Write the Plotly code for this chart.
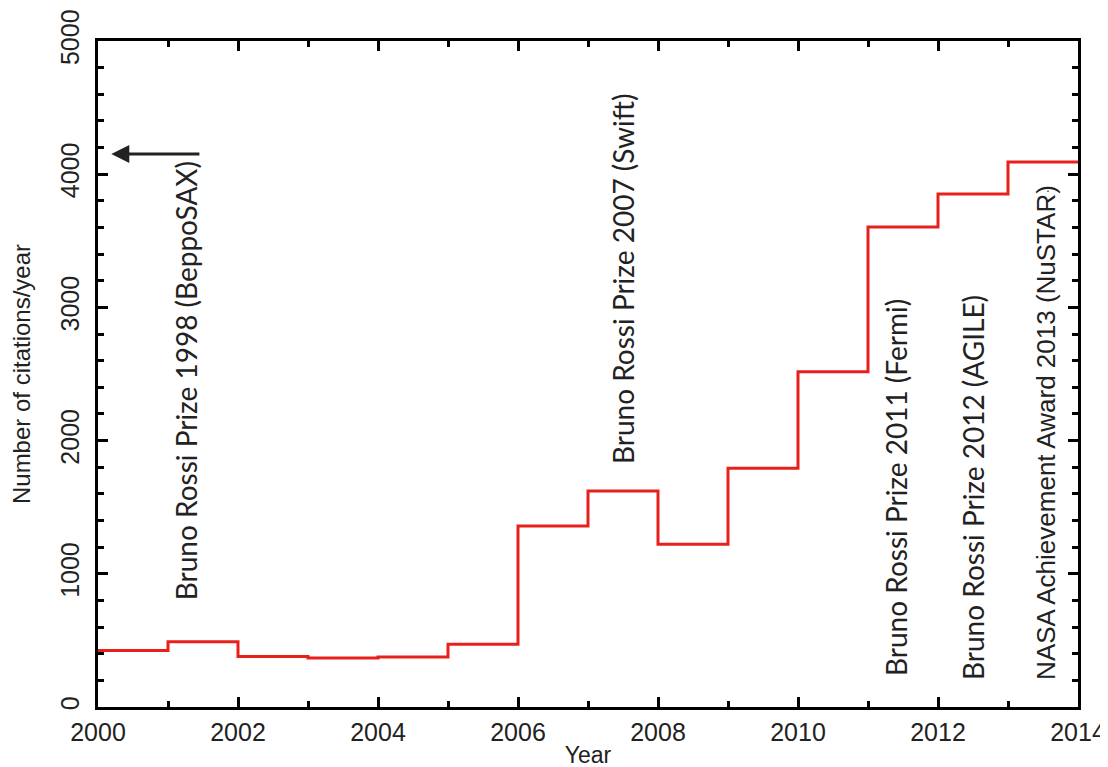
import plotly.graph_objects as go

years = [2000, 2001, 2002, 2003, 2004, 2005, 2006, 2007, 2008, 2009, 2010, 2011, 2012, 2013]
citations = [425, 490, 380, 368, 375, 471, 1359, 1622, 1221, 1792, 2517, 3604, 3851, 4092]
end_year = 2014

notes = [
    "Bruno Rossi Prize 1998 (BeppoSAX)",
    "Bruno Rossi Prize 2007 (Swift)",
    "Bruno Rossi Prize 2011 (Fermi)",
    "Bruno Rossi Prize 2012 (AGILE)",
    "NASA Achievement Award 2013 (NuSTAR)",
]
note_x = [2001.26, 2007.5, 2011.4, 2012.5, 2013.54]
note_y = [2447, 3213, 1644, 1644, 2064]
note_fonts = ["Lato", "Lato", "Lato", "Lato", "Liberation Sans"]
note_sizes = [28, 28, 28, 28, 26]

x_step = years + [end_year]
y_step = citations + [citations[-1]]

fig = go.Figure()
fig.add_trace(go.Scatter(
    x=x_step, y=y_step, mode="lines", line_shape="hv",
    line=dict(color="#e8201c", width=3), showlegend=False, hoverinfo="skip"))

for t, xx, yy, fnt, sz in zip(notes, note_x, note_y, note_fonts, note_sizes):
    fig.add_annotation(x=xx, y=yy, text=t, textangle=-90, showarrow=False,
                       xref="x", yref="y", xanchor="center", yanchor="middle",
                       font=dict(family=fnt, size=sz, color="#222"))

# arrow pointing to the left axis
fig.add_annotation(x=2000.19, y=4152, ax=2001.47, ay=4152, xref="x", yref="y",
                   axref="x", ayref="y", text="", showarrow=True,
                   arrowhead=2, arrowsize=1.2, arrowwidth=3, arrowcolor="#222")
# small dot
fig.add_annotation(x=2013.57, y=3904, text=".", showarrow=False,
                   font=dict(family="Liberation Sans", size=14, color="#444"))

axis_common = dict(
    showline=True, linecolor="black", linewidth=2.5, mirror="ticks",
    ticks="inside", ticklen=10, tickwidth=2.5, tickcolor="black",
    showgrid=False, zeroline=False, automargin=False,
    tickfont=dict(family="Liberation Sans", size=25, color="#222"),
)

fig.update_xaxes(range=[2000, 2014], tickmode="linear", tick0=2000, dtick=2,
                 minor=dict(ticks="inside", ticklen=6, tickwidth=2.5, tickcolor="black",
                            dtick=1, showgrid=False),
                 title=dict(text="Year", font=dict(family="Liberation Sans", size=23, color="#222"),
                            standoff=7),
                 ticklabelstandoff=1,
                 **axis_common)
fig.update_yaxes(range=[0, 5000], tickmode="linear", tick0=0, dtick=1000, tickangle=-90,
                 minor=dict(ticks="inside", ticklen=6, tickwidth=2.5, tickcolor="black",
                            dtick=200, showgrid=False),
                 title=dict(text="Number of citations/year",
                            font=dict(family="Liberation Sans", size=24, color="#222"),
                            standoff=20),
                 ticklabelstandoff=6,
                 **axis_common)

fig.update_layout(
    width=1100, height=760,
    margin=dict(l=90, r=30, t=33, b=61),
    plot_bgcolor="white", paper_bgcolor="white",
    showlegend=False,
)

fig.write_html("out.html")
